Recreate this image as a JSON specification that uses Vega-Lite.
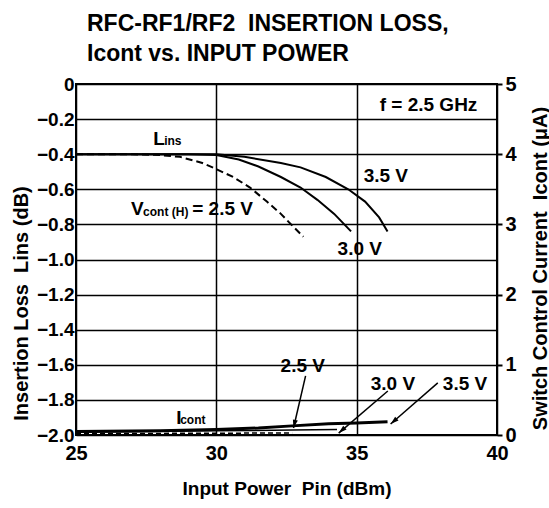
{
  "$schema": "https://vega.github.io/schema/vega-lite/v6.json",
  "width": 421,
  "height": 351,
  "autosize": {"type": "none"},
  "padding": {"left": 76, "top": 84, "right": 52, "bottom": 73},
  "background": "white",
  "title": {
    "text": ["RFC-RF1/RF2 \u00a0INSERTION LOSS,", "Icont vs. INPUT POWER"],
    "anchor": "start",
    "frame": "group",
    "font": "Liberation Sans",
    "fontSize": 23,
    "fontWeight": "bold",
    "color": "black",
    "lineHeight": 30,
    "offset": 8,
    "dx": 11
  },
  "datasets": {
    "lins": [
      {"p": 25, "db": -0.4, "v": "2.5 V"}, {"p": 27, "db": -0.4, "v": "2.5 V"}, {"p": 28, "db": -0.405, "v": "2.5 V"},
      {"p": 28.7, "db": -0.415, "v": "2.5 V"}, {"p": 29.5, "db": -0.45, "v": "2.5 V"}, {"p": 30, "db": -0.485, "v": "2.5 V"},
      {"p": 30.6, "db": -0.53, "v": "2.5 V"}, {"p": 31.2, "db": -0.59, "v": "2.5 V"}, {"p": 31.8, "db": -0.67, "v": "2.5 V"},
      {"p": 32.3, "db": -0.74, "v": "2.5 V"}, {"p": 32.6, "db": -0.79, "v": "2.5 V"}, {"p": 33.1, "db": -0.87, "v": "2.5 V"},
      {"p": 25, "db": -0.4, "v": "3.0 V"}, {"p": 29, "db": -0.4, "v": "3.0 V"}, {"p": 30, "db": -0.405, "v": "3.0 V"},
      {"p": 30.8, "db": -0.43, "v": "3.0 V"}, {"p": 31.5, "db": -0.47, "v": "3.0 V"}, {"p": 32.3, "db": -0.53, "v": "3.0 V"},
      {"p": 33, "db": -0.59, "v": "3.0 V"}, {"p": 33.6, "db": -0.66, "v": "3.0 V"}, {"p": 34.2, "db": -0.74, "v": "3.0 V"},
      {"p": 34.8, "db": -0.84, "v": "3.0 V"},
      {"p": 25, "db": -0.4, "v": "3.5 V"}, {"p": 30, "db": -0.4, "v": "3.5 V"}, {"p": 31, "db": -0.415, "v": "3.5 V"},
      {"p": 32.3, "db": -0.45, "v": "3.5 V"}, {"p": 33, "db": -0.475, "v": "3.5 V"}, {"p": 33.9, "db": -0.53, "v": "3.5 V"},
      {"p": 34.7, "db": -0.6, "v": "3.5 V"}, {"p": 35.3, "db": -0.67, "v": "3.5 V"}, {"p": 35.8, "db": -0.76, "v": "3.5 V"},
      {"p": 36.1, "db": -0.84, "v": "3.5 V"}
    ],
    "icont": [
      {"p": 25, "i": 0.02, "v": "2.5 V"}, {"p": 30, "i": 0.025, "v": "2.5 V"}, {"p": 32.7, "i": 0.03, "v": "2.5 V"},
      {"p": 25, "i": 0.04, "v": "3.0 V"}, {"p": 30, "i": 0.06, "v": "3.0 V"}, {"p": 32.7, "i": 0.07, "v": "3.0 V"}, {"p": 34.3, "i": 0.08, "v": "3.0 V"},
      {"p": 25, "i": 0.05, "v": "3.5 V"}, {"p": 28, "i": 0.06, "v": "3.5 V"}, {"p": 30, "i": 0.08, "v": "3.5 V"},
      {"p": 31.5, "i": 0.1, "v": "3.5 V"}, {"p": 32.7, "i": 0.13, "v": "3.5 V"}, {"p": 34, "i": 0.16, "v": "3.5 V"},
      {"p": 35, "i": 0.17, "v": "3.5 V"}, {"p": 36.1, "i": 0.19, "v": "3.5 V"}
    ],
    "bigtext": [
      {"p": 27.75, "db": -0.349, "label": "L"},
      {"p": 26.96, "db": -0.749, "label": "V"},
      {"p": 29.14, "db": -0.749, "label": "= 2.5 V"},
      {"p": 35.25, "db": -0.56, "label": "3.5 V"},
      {"p": 34.32, "db": -0.977, "label": "3.0 V"},
      {"p": 35.82, "db": -0.154, "label": "f = 2.5 GHz"},
      {"p": 32.29, "db": -1.64, "label": "2.5 V"},
      {"p": 35.5, "db": -1.743, "label": "3.0 V"},
      {"p": 38.07, "db": -1.743, "label": "3.5 V"},
      {"p": 28.57, "db": -1.937, "label": "I"}
    ],
    "smalltext": [
      {"p": 28.14, "db": -0.349, "label": "ins"},
      {"p": 27.39, "db": -0.754, "label": "cont (H)"},
      {"p": 28.71, "db": -1.937, "label": "cont"}
    ],
    "arrows": [
      {"p": 33.18, "db": -1.663, "p2": 32.75, "db2": -1.96, "v": "2.5 V"},
      {"p": 36.11, "db": -1.749, "p2": 34.36, "db2": -1.989, "v": "3.0 V"},
      {"p": 37.89, "db": -1.703, "p2": 36.21, "db2": -1.937, "v": "3.5 V"}
    ]
  },
  "layer": [
    {
      "layer": [
        {
          "data": {"name": "lins"},
          "transform": [{"filter": "datum.v != '2.5 V'"}],
          "mark": {"type": "line", "color": "black", "strokeWidth": 2},
          "encoding": {
            "x": {"field": "p", "type": "quantitative", "scale": {"domain": [25, 40], "nice": false},
              "axis": {"values": [25, 30, 35, 40], "gridValues": [30, 35], "title": "Input Power \u00a0Pin (dBm)", "titleFontSize": 19, "labelPadding": 8, "titlePadding": 16}},
            "y": {"field": "db", "type": "quantitative", "scale": {"domain": [-2, 0], "nice": false},
              "axis": {"values": [0, -0.2, -0.4, -0.6, -0.8, -1, -1.2, -1.4, -1.6, -1.8, -2], "tickCount": 30,
                "labelExpr": "datum.value == 0 ? '0' : format(datum.value, '.1f')", "labelFontSize": 19,
                "labelPadding": 2, "title": "Insertion Loss \u00a0Lins (dB)", "titleFontSize": 20, "titleAngle": -90, "titleY": 219, "titleX": -55, "titleBaseline": "middle"}},
            "detail": {"field": "v"}
          }
        },
        {
          "data": {"name": "lins"},
          "transform": [{"filter": "datum.v == '2.5 V'"}],
          "mark": {"type": "line", "color": "black", "strokeWidth": 2, "strokeDash": [7, 4]},
          "encoding": {
            "x": {"field": "p", "type": "quantitative"},
            "y": {"field": "db", "type": "quantitative"}
          }
        },
        {
          "data": {"name": "bigtext"},
          "mark": {"type": "text", "align": "left", "baseline": "alphabetic", "font": "Liberation Sans", "fontSize": 19, "fontWeight": "bold", "color": "black"},
          "encoding": {
            "x": {"field": "p", "type": "quantitative"},
            "y": {"field": "db", "type": "quantitative"},
            "text": {"field": "label"}
          }
        },
        {
          "data": {"name": "smalltext"},
          "mark": {"type": "text", "align": "left", "baseline": "alphabetic", "font": "Liberation Sans", "fontSize": 12, "fontWeight": "bold", "color": "black"},
          "encoding": {
            "x": {"field": "p", "type": "quantitative"},
            "y": {"field": "db", "type": "quantitative"},
            "text": {"field": "label"}
          }
        },
        {
          "data": {"name": "arrows"},
          "mark": {"type": "rule", "color": "black", "strokeWidth": 1.5},
          "encoding": {
            "x": {"field": "p", "type": "quantitative"},
            "y": {"field": "db", "type": "quantitative"},
            "x2": {"field": "p2"},
            "y2": {"field": "db2"}
          }
        },
        {
          "data": {"name": "arrows"},
          "transform": [{"filter": "datum.v == '2.5 V'"}],
          "mark": {"type": "point", "shape": "M0,0L-0.4,1.3L0.4,1.3Z", "filled": true, "color": "black", "opacity": 1, "size": 160, "angle": 193},
          "encoding": {
            "x": {"field": "p2", "type": "quantitative"},
            "y": {"field": "db2", "type": "quantitative"}
          }
        },
        {
          "data": {"name": "arrows"},
          "transform": [{"filter": "datum.v != '2.5 V'"}],
          "mark": {"type": "point", "shape": "M0,0L-0.4,1.3L0.4,1.3Z", "filled": true, "color": "black", "opacity": 1, "size": 160, "angle": 229},
          "encoding": {
            "x": {"field": "p2", "type": "quantitative"},
            "y": {"field": "db2", "type": "quantitative"}
          }
        }
      ]
    },
    {
      "layer": [
        {
          "data": {"name": "icont"},
          "transform": [{"filter": "datum.v == '3.5 V'"}],
          "mark": {"type": "line", "color": "black", "strokeWidth": 3},
          "encoding": {
            "x": {"field": "p", "type": "quantitative"},
            "y": {"field": "i", "type": "quantitative", "scale": {"domain": [0, 5], "nice": false},
              "axis": {"orient": "right", "values": [0, 1, 2, 3, 4, 5], "format": "d", "grid": false, "ticks": true, "tickSize": 5, "tickWidth": 2, "tickColor": "black",
                "labelPadding": 3, "title": "Switch Control Current \u00a0Icont (μA)", "titleAngle": -90, "titleY": 184, "titleX": 43, "titleBaseline": "middle"}}
          }
        },
        {
          "data": {"name": "icont"},
          "transform": [{"filter": "datum.v == '3.0 V'"}],
          "mark": {"type": "line", "color": "black", "strokeWidth": 1.5},
          "encoding": {
            "x": {"field": "p", "type": "quantitative"},
            "y": {"field": "i", "type": "quantitative"}
          }
        },
        {
          "data": {"name": "icont"},
          "transform": [{"filter": "datum.v == '2.5 V'"}],
          "mark": {"type": "line", "color": "black", "strokeWidth": 1.5, "strokeDash": [5, 3]},
          "encoding": {
            "x": {"field": "p", "type": "quantitative"},
            "y": {"field": "i", "type": "quantitative"}
          }
        }
      ]
    }
  ],
  "resolve": {"scale": {"y": "independent"}},
  "config": {
    "view": {"stroke": "black", "strokeWidth": 2},
    "axis": {
      "domain": false, "ticks": false,
      "labelOverlap": false, "labelBound": false, "labelFlush": false,
      "labelFont": "Liberation Sans", "labelFontSize": 20, "labelFontWeight": "bold", "labelColor": "black",
      "titleFont": "Liberation Sans", "titleFontSize": 20, "titleFontWeight": "bold", "titleColor": "black",
      "gridColor": "black", "gridOpacity": 1, "gridWidth": 1.5
    }
  }
}
